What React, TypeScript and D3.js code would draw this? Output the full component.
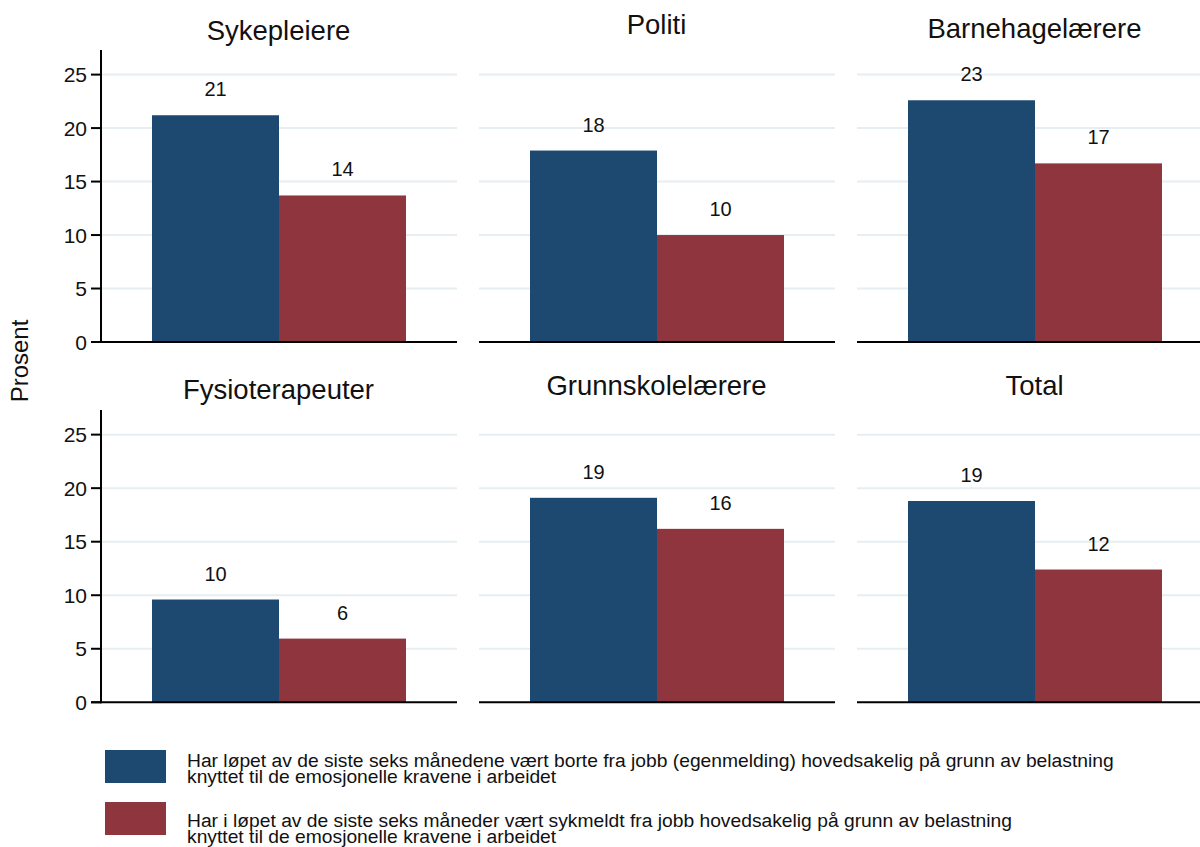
import React from "react";
import * as d3 from "d3";

const panels = ["Sykepleiere", "Politi", "Barnehagelærere", "Fysioterapeuter", "Grunnskolelærere", "Total"];
const egenmelding = [21.2, 17.9, 22.6, 9.6, 19.1, 18.8];
const sykmeldt = [13.7, 10.0, 16.7, 5.95, 16.2, 12.4];
const valueLabels1 = ["21", "18", "23", "10", "19", "19"];
const valueLabels2 = ["14", "10", "17", "6", "16", "12"];
const yTicks = [0, 5, 10, 15, 20, 25];
const legendLabels = [
  ["Har løpet av de siste seks månedene vært borte fra jobb (egenmelding) hovedsakelig på grunn av belastning", "knyttet til de emosjonelle kravene i arbeidet"],
  ["Har i løpet av de siste seks måneder vært sykmeldt fra jobb hovedsakelig på grunn av belastning", "knyttet til de emosjonelle kravene i arbeidet"],
];
const yLabel = "Prosent";

const W = 1200;
const H = 847;
const FONT = "'Liberation Sans', Arial, Helvetica, sans-serif";
const BLUE = "#1d486f";
const RED = "#8f353e";
const GRID = "#e7eef1";

const colX = [101, 479, 857];
const panelW = 356;
const rowBase = [342, 702.3];
const rowTop = [50, 410];
const titleY = [40, 34, 38, 399, 395, 395];
const legendTop = [750, 802];
const legendTextY = [767, 827];

export default function App() {
  return (
    <svg
      width={W}
      height={H}
      viewBox={`0 0 ${W} ${H}`}
      style={{ position: "absolute", left: 0, top: 0, background: "#fff" }}
      fontFamily={FONT}
    >
      <rect x={0} y={0} width={W} height={H} fill="#fff" />
      {panels.map((name, i) => {
        const col = i % 3;
        const row = Math.floor(i / 3);
        const x0 = colX[col];
        const y = d3.scaleLinear().domain([0, 27.3]).range([rowBase[row], rowTop[row]]);
        const x = d3
          .scaleBand<string>()
          .domain(["a", "b"])
          .range([x0 + 51, x0 + 305])
          .padding(0);
        const bars = [
          { k: "a", v: egenmelding[i], lab: valueLabels1[i], c: BLUE },
          { k: "b", v: sykmeldt[i], lab: valueLabels2[i], c: RED },
        ];
        return (
          <g key={name}>
            {yTicks
              .filter((t) => t > 0)
              .map((t) => (
                <line key={t} x1={x0} x2={x0 + panelW} y1={y(t)} y2={y(t)} stroke={GRID} strokeWidth={2} />
              ))}
            {bars.map((b) => (
              <rect
                key={b.k}
                x={x(b.k)!}
                y={y(b.v)}
                width={x.bandwidth()}
                height={y(0) - y(b.v)}
                fill={b.c}
              />
            ))}
            {bars.map((b) => (
              <text
                key={"l" + b.k}
                x={x(b.k)! + x.bandwidth() / 2}
                y={y(b.v) - 19}
                textAnchor="middle"
                fontSize={20}
                fill="#111"
              >
                {b.lab}
              </text>
            ))}
            <line
              x1={col === 0 ? x0 - 10 : x0}
              x2={x0 + panelW}
              y1={y(0)}
              y2={y(0)}
              stroke="#000"
              strokeWidth={2}
            />
            {col === 0 && (
              <g>
                <line x1={x0} x2={x0} y1={rowTop[row]} y2={y(0) + 1} stroke="#000" strokeWidth={2} />
                {yTicks.map((t) => (
                  <g key={t}>
                    <line x1={x0 - 10} x2={x0} y1={y(t)} y2={y(t)} stroke="#000" strokeWidth={2} />
                    <text x={x0 - 14} y={y(t)} dy="0.36em" textAnchor="end" fontSize={21} fill="#111">
                      {t}
                    </text>
                  </g>
                ))}
              </g>
            )}
            <text x={x0 + panelW / 2 - 0.5} y={titleY[i]} textAnchor="middle" fontSize={27.5} fill="#111">
              {name}
            </text>
          </g>
        );
      })}
      <text transform="translate(28,361) rotate(-90)" textAnchor="middle" fontSize={24} fill="#111">
        {yLabel}
      </text>
      {legendLabels.map((lines, i) => (
        <g key={i}>
          <rect x={105} y={legendTop[i]} width={61} height={33} fill={i === 0 ? BLUE : RED} />
          <text x={187} y={legendTextY[i]} fontSize={19.25} fill="#111">
            {lines.map((ln, j) => (
              <tspan key={j} x={187} dy={j === 0 ? 0 : 16}>
                {ln}
              </tspan>
            ))}
          </text>
        </g>
      ))}
    </svg>
  );
}
